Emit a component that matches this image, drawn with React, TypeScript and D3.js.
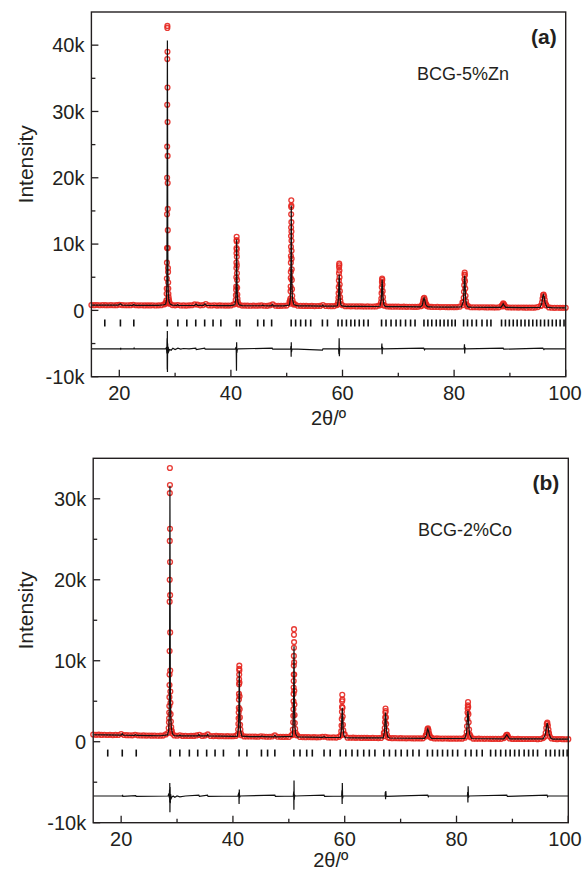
import React from 'react';
import * as d3 from 'd3';

const W = 583;
const H = 873;

// scan step of the observed background points
const scanStart = 15;
const scanStep = 0.5;

// ---------- panel (a) BCG-5%Zn ----------
// observed counts every 0.5 deg from 15 to 100, null where the peak list takes over
const obsBaseA = [
  820, 790, 810, 780, 800, 790, 770, 800, 780, 790,
  850, 800, 780, 770, 790, 850, 780, 760, 770, 750,
  760, 750, 770, 740, 760, 780, 900, null, 1000, 800,
  760, 820, 740, 750, 730, 760, 780, 900, 870, 760,
  800, 950, 760, 740, 780, 730, 750, 740, 720, 730,
  740, 900, null, 850, 730, 720, 710, 700, 720, 700,
  720, 750, 700, 690, 760, 900, 700, 680, 690, 700,
  720, 1300, null, 900, 700, 690, 670, 680, 660, 670,
  650, 660, 680, 820, 660, 650, 640, 650, 800, null,
  780, 630, 620, 610, 630, 600, 610, 600, 590, 600,
  590, 580, 600, 720, null, 700, 580, 570, 560, 570,
  560, 550, 560, 540, 550, 540, 530, 540, 620, null,
  900, 560, 520, 510, 520, 500, 510, 500, 490, 500,
  490, 500, 560, 1200, null, 650, 480, 470, 480, 460,
  470, 460, 450, 460, 450, 440, 460, 700, 800, 460,
  440, 430, 440, 420, 430, 420, 410, 420, 410, 420,
  500, 700, null, 800, 450, 400, 390, 400, 390, 380,
  390,
];

// observed points on the Bragg peaks [2theta, counts]
const obsPeaksA = [
  [28.28, 1000], [28.34, 1100], [28.4, 1200], [28.44, 1500], [28.48, 2500], [28.5, 3300],
  [28.52, 4800], [28.54, 7200], [28.55, 9400], [28.56, 14500], [28.57, 20000], [28.58, 24700],
  [28.59, 31000], [28.6, 37900], [28.61, 42600], [28.62, 42900], [28.63, 39000], [28.64, 33600],
  [28.65, 28400], [28.66, 23300], [28.67, 19200], [28.68, 15300], [28.69, 12100], [28.7, 9400],
  [28.72, 6400], [28.74, 5800], [28.76, 4200], [28.78, 3300], [28.8, 2500], [28.84, 2000],
  [28.9, 1600], [28.96, 1300], [29.02, 1100],
  [40.8, 1000], [40.86, 1600], [40.9, 2300], [40.93, 3100], [40.95, 3600], [40.97, 5000],
  [40.98, 6400], [40.99, 7200], [41.0, 8600], [41.01, 9400], [41.02, 10600], [41.03, 11100],
  [41.04, 10400], [41.05, 9200], [41.06, 8100], [41.07, 6800], [41.08, 5600], [41.1, 4600],
  [41.12, 3400], [41.15, 2400], [41.18, 1800], [41.24, 1300], [41.32, 1000],
  [50.55, 1000], [50.62, 1500], [50.66, 1800], [50.69, 2900], [50.71, 3600], [50.73, 4900],
  [50.74, 5800], [50.75, 7200], [50.76, 8200], [50.77, 9600], [50.78, 11200], [50.79, 12500],
  [50.8, 14500], [50.81, 15600], [50.82, 16600], [50.83, 15800], [50.84, 13300], [50.85, 11900],
  [50.86, 10500], [50.87, 9000], [50.88, 7800], [50.9, 6200], [50.92, 4600], [50.95, 3200],
  [50.99, 2200], [51.05, 1500], [51.14, 1100], [51.25, 900],
  [59.15, 900], [59.22, 1300], [59.27, 1900], [59.3, 2600], [59.33, 3500], [59.35, 4500],
  [59.37, 5600], [59.39, 6500], [59.41, 7050], [59.43, 6800], [59.45, 6000], [59.47, 5000],
  [59.5, 3900], [59.53, 2900], [59.57, 2000], [59.63, 1400], [59.72, 950],
  [66.82, 800], [66.9, 1200], [66.96, 1800], [67.0, 2600], [67.04, 3500], [67.07, 4300],
  [67.1, 4800], [67.13, 4600], [67.16, 3900], [67.2, 2900], [67.25, 2000], [67.32, 1300], [67.42, 850],
  [74.2, 700], [74.35, 1000], [74.45, 1400], [74.55, 1800], [74.65, 1900], [74.75, 1600],
  [74.85, 1200], [74.95, 850], [75.1, 650],
  [81.55, 800], [81.65, 1200], [81.72, 1900], [81.77, 2800], [81.81, 3800], [81.84, 4700],
  [81.87, 5400], [81.9, 5700], [81.93, 5300], [81.96, 4400], [82.0, 3300], [82.05, 2200],
  [82.12, 1400], [82.22, 900], [82.35, 600],
  [88.6, 600], [88.7, 850], [88.8, 1050], [88.9, 950], [89.1, 650],
  [95.6, 700], [95.75, 1200], [95.85, 1800], [95.95, 2300], [96.05, 2400], [96.15, 2100],
  [96.25, 1600], [96.35, 1100], [96.5, 750],
];

// calculated profile [2theta, counts]
const calcA = [
  [15, 800], [17, 790], [19.8, 790], [20.15, 1000], [20.5, 800], [22.4, 770], [22.6, 900], [22.8, 770],
  [25, 760], [27, 750], [28.0, 850], [28.3, 950], [28.45, 1500], [28.52, 4000], [28.56, 14000],
  [28.59, 30000], [28.62, 40700], [28.65, 28000], [28.68, 12000], [28.72, 5000], [28.78, 2500],
  [28.9, 1400], [29.1, 950], [29.5, 800], [30.3, 760], [30.45, 880], [30.6, 750], [32, 740],
  [33.5, 760], [33.75, 950], [34.0, 760], [35.1, 750], [35.35, 980], [35.6, 750], [37, 740],
  [38, 730], [40, 720], [40.7, 850], [40.9, 1800], [40.97, 4500], [41.01, 9000], [41.03, 10700],
  [41.05, 9000], [41.08, 5000], [41.14, 2500], [41.25, 1300], [41.45, 850], [42, 720], [44, 700],
  [45.5, 700], [45.7, 780], [45.9, 700], [47.2, 690], [47.4, 900], [47.6, 690], [49.5, 680],
  [50.5, 800], [50.68, 2000], [50.75, 6500], [50.79, 12500], [50.82, 15800], [50.85, 12000],
  [50.89, 6500], [50.95, 3200], [51.05, 1600], [51.3, 850], [52, 690], [54, 670], [56.3, 650],
  [56.45, 800], [56.6, 650], [58.5, 640], [59.1, 700], [59.28, 1800], [59.36, 4200], [59.41, 5400],
  [59.46, 4200], [59.54, 2000], [59.7, 900], [59.9, 680], [60.5, 620], [63, 600], [66.0, 590],
  [66.7, 620], [66.95, 1600], [67.04, 3400], [67.1, 4600], [67.16, 3700], [67.25, 1800],
  [67.45, 800], [67.7, 600], [68, 580], [71, 560], [74.0, 540], [74.3, 800], [74.5, 1600],
  [74.62, 1850], [74.75, 1500], [74.95, 800], [75.3, 540], [76, 520], [79, 500], [81.3, 520],
  [81.65, 1300], [81.78, 3200], [81.86, 5000], [81.9, 5200], [81.95, 4500], [82.05, 2000],
  [82.2, 900], [82.5, 500], [83, 480], [86, 460], [88.4, 460], [88.65, 750], [88.8, 1000],
  [88.95, 800], [89.25, 460], [89.5, 450], [92, 430], [95.4, 440], [95.7, 1000], [95.9, 2100],
  [96.0, 2350], [96.12, 2100], [96.3, 1200], [96.6, 500], [97.5, 410], [100, 390],
];

// difference curve (obs - calc), drawn with its offset [2theta, counts]
const diffA = [
  [15, -5800], [20.2, -5800], [20.25, -5650], [20.3, -5850], [20.4, -5800], [22.6, -5800],
  [22.65, -5700], [22.7, -5800], [28.3, -5800], [28.45, -5600], [28.52, -6500], [28.56, -4200],
  [28.59, -8900], [28.61, -3100], [28.63, -9300], [28.66, -5000], [28.7, -6300], [28.76, -5500],
  [28.85, -6200], [29.0, -5900], [29.3, -6000], [29.6, -5700], [30.0, -5900], [30.5, -5700],
  [31.0, -5850], [31.5, -5750], [32.5, -5800], [33.7, -5700], [33.8, -5900], [35.3, -5700],
  [35.4, -5850], [40.8, -5800], [40.95, -5500], [41.0, -9100], [41.03, -4800], [41.06, -6400],
  [41.15, -5900], [41.3, -5800], [47.4, -5700], [47.5, -5850], [50.7, -5800], [50.78, -5400],
  [50.8, -7000], [50.82, -4800], [50.85, -6300], [50.95, -5800], [56.4, -6000], [56.5, -5800],
  [59.3, -5800], [59.36, -6600], [59.4, -4200], [59.44, -6900], [59.5, -5700], [59.6, -5800],
  [67.0, -5800], [67.06, -5000], [67.1, -6600], [67.15, -5500], [67.25, -5800], [74.55, -5700],
  [74.7, -5950], [74.8, -5800], [81.8, -5800], [81.86, -5100], [81.9, -6500], [81.95, -5600],
  [82.05, -5800], [88.8, -5700], [88.9, -5850], [95.9, -5700], [96.1, -5900], [96.2, -5800],
  [100, -5800],
];

// reflection positions (2theta)
const braggA = [
  17.4, 20.2, 22.6, 28.6, 30.5, 32.1, 33.7, 35.3, 36.8, 38.2, 41.0, 41.6, 44.8, 45.9, 47.3,
  50.8, 51.6, 52.5, 53.4, 54.3, 56.4, 57.3, 59.2, 59.9, 60.7, 61.5, 62.2, 63.0, 63.8, 64.6,
  67.0, 67.8, 68.7, 69.6, 70.4, 71.3, 72.2, 73.0, 74.6, 75.3, 76.0, 76.8, 77.5, 78.2, 78.9,
  79.6, 80.2, 81.7, 82.4, 83.2, 84.0, 85.0, 85.9, 86.6, 88.5, 89.2, 89.9, 90.6, 91.3, 92.0,
  92.7, 93.4, 94.1, 94.8, 95.5, 96.2, 96.9, 97.6, 98.3, 99.0, 99.7,
];

// ---------- panel (b) BCG-2%Co ----------
const obsBaseB = [
  880, 850, 870, 840, 860, 830, 850, 820, 840, 830,
  950, 830, 810, 800, 790, 860, 790, 770, 780, 760,
  770, 750, 760, 740, 750, 760, 900, null, 1400, 780,
  740, 800, 720, 730, 710, 730, 720, 780, 850, 720,
  760, 900, 710, 700, 720, 690, 700, 680, 690, 670,
  680, 720, null, 800, 660, 650, 640, 650, 630, 620,
  680, 640, 620, 610, 640, 780, 610, 600, 590, 600,
  590, 800, null, 800, 580, 570, 560, 570, 550, 560,
  540, 550, 620, 620, 530, 520, 530, 510, 600, null,
  900, 500, 490, 500, 480, 490, 470, 480, 470, 460,
  470, 460, 450, 470, 1100, null, 460, 440, 450, 430,
  440, 430, 420, 430, 420, 410, 420, 410, 420, 800,
  null, 500, 400, 410, 400, 390, 400, 390, 380, 390,
  380, 390, 380, 500, null, 700, 380, 370, 380, 370,
  360, 370, 360, 350, 360, 350, 360, 450, 850, 400,
  350, 340, 350, 340, 330, 340, 330, 340, 330, 320,
  340, 450, null, 1100, 400, 330, 320, 330, 320, 310,
  320,
];

const obsPeaksB = [
  [28.42, 1100], [28.5, 1700], [28.55, 2400], [28.58, 2900], [28.6, 3600], [28.62, 4400],
  [28.64, 5500], [28.65, 7000], [28.66, 8300], [28.67, 11200], [28.68, 17300], [28.69, 20000],
  [28.7, 24800], [28.71, 30700], [28.72, 33800], [28.73, 31700], [28.74, 26300], [28.75, 22200],
  [28.76, 18100], [28.77, 13500], [28.78, 8800], [28.8, 6200], [28.82, 4800], [28.85, 3400],
  [28.9, 2500], [28.96, 1800], [29.05, 1300], [29.15, 1000],
  [40.85, 900], [40.93, 1500], [40.98, 2200], [41.01, 2900], [41.03, 3600], [41.05, 4200],
  [41.07, 5200], [41.08, 5900], [41.1, 7100], [41.11, 7700], [41.12, 8300], [41.13, 9000],
  [41.14, 9400], [41.15, 8800], [41.17, 7300], [41.19, 5600], [41.21, 4000], [41.24, 3000],
  [41.28, 2100], [41.34, 1500], [41.45, 1000],
  [50.65, 900], [50.72, 1500], [50.77, 2400], [50.8, 3200], [50.82, 4000], [50.84, 5000],
  [50.85, 5900], [50.86, 6700], [50.87, 7500], [50.88, 8300], [50.89, 9400], [50.9, 10600],
  [50.91, 11600], [50.92, 13200], [50.93, 13900], [50.94, 12300], [50.95, 9800], [50.96, 8300],
  [50.98, 6300], [51.0, 4600], [51.03, 3300], [51.07, 2300], [51.13, 1600], [51.22, 1100], [51.35, 800],
  [59.3, 800], [59.38, 1300], [59.43, 2000], [59.47, 2800], [59.5, 3700], [59.52, 4300],
  [59.54, 5000], [59.56, 5800], [59.58, 5200], [59.61, 4200], [59.64, 3100], [59.68, 2100],
  [59.74, 1400], [59.84, 900],
  [67.02, 700], [67.1, 1100], [67.16, 1700], [67.2, 2400], [67.24, 3000], [67.27, 3600],
  [67.3, 4100], [67.33, 3800], [67.37, 3000], [67.41, 2200], [67.47, 1400], [67.56, 850], [67.7, 550],
  [74.5, 650], [74.6, 850], [74.7, 1200], [74.8, 1550], [74.9, 1650], [75.0, 1400], [75.1, 1000],
  [75.2, 750], [75.35, 550],
  [81.72, 700], [81.82, 1200], [81.88, 1900], [81.93, 2800], [81.97, 3600], [82.0, 4100],
  [82.03, 4500], [82.06, 4900], [82.09, 4300], [82.13, 3400], [82.18, 2400], [82.25, 1500],
  [82.35, 900], [82.5, 550],
  [88.8, 650], [88.9, 800], [89.1, 850], [89.2, 650],
  [95.8, 650], [95.95, 1100], [96.05, 1700], [96.15, 2200], [96.25, 2350], [96.35, 2000],
  [96.45, 1500], [96.55, 1000], [96.7, 650],
];

const calcB = [
  [15, 860], [17, 840], [20.0, 820], [20.2, 980], [20.4, 810], [22.4, 790], [22.6, 860], [22.8, 780],
  [25, 760], [27, 740], [28.3, 850], [28.5, 1400], [28.6, 3000], [28.66, 8000], [28.7, 22000],
  [28.73, 31600], [28.76, 20000], [28.8, 7000], [28.87, 3000], [29.0, 1600], [29.2, 950],
  [29.5, 760], [30.3, 730], [30.5, 800], [30.7, 730], [32, 715], [33.7, 720], [33.9, 880],
  [34.1, 720], [35.3, 710], [35.45, 900], [35.6, 710], [38, 690], [40, 670], [40.8, 700],
  [41.0, 1800], [41.08, 5000], [41.13, 8700], [41.16, 7500], [41.22, 3500], [41.32, 1500],
  [41.6, 700], [43, 640], [45, 620], [45.2, 700], [45.4, 620], [47.3, 610], [47.5, 780],
  [47.7, 610], [50.6, 650], [50.78, 2200], [50.86, 6000], [50.91, 11000], [50.93, 11800],
  [50.96, 9000], [51.0, 4500], [51.08, 2000], [51.2, 1000], [51.5, 600], [54, 560], [56.1, 540],
  [56.3, 650], [56.5, 540], [59.2, 520], [59.4, 1400], [59.5, 3200], [59.56, 4200], [59.62, 3400],
  [59.7, 1600], [59.85, 800], [60.1, 500], [63, 480], [66.9, 470], [67.12, 1300], [67.22, 2700],
  [67.3, 3600], [67.37, 2900], [67.47, 1400], [67.7, 600], [68, 460], [71, 430], [74.3, 420],
  [74.6, 750], [74.78, 1400], [74.87, 1600], [74.98, 1350], [75.2, 700], [75.5, 420], [78, 400],
  [81.5, 400], [81.8, 1100], [81.94, 2800], [82.03, 3800], [82.1, 3500], [82.2, 1900],
  [82.35, 900], [82.7, 400], [86, 370], [88.5, 360], [88.8, 650], [89.0, 850], [89.2, 650],
  [89.5, 360], [93, 340], [95.5, 340], [95.9, 900], [96.1, 1900], [96.22, 2300], [96.35, 1950],
  [96.55, 1000], [96.85, 450], [97.2, 330], [100, 320],
];

const diffB = [
  [15, -6700], [20.2, -6700], [20.25, -6550], [20.3, -6750], [22.6, -6650], [22.7, -6750],
  [28.4, -6700], [28.55, -6400], [28.62, -6900], [28.66, -5900], [28.68, -7500], [28.7, -5100],
  [28.73, -8700], [28.76, -5600], [28.8, -7600], [28.86, -6500], [28.95, -7000], [29.1, -6800],
  [29.3, -6700], [29.6, -6850], [30.0, -6700], [30.5, -6800], [31.5, -6700], [33.9, -6600],
  [34.0, -6750], [35.45, -6600], [35.55, -6750], [40.9, -6700], [41.06, -6300], [41.1, -7700],
  [41.14, -5900], [41.18, -6900], [41.3, -6700], [47.5, -6600], [47.6, -6750], [50.8, -6700],
  [50.88, -6200], [50.91, -8400], [50.93, -4800], [50.96, -7200], [51.05, -6600], [51.15, -6700],
  [56.3, -6600], [56.4, -6750], [59.45, -6700], [59.5, -6000], [59.54, -7700], [59.57, -5100],
  [59.62, -7000], [59.7, -6700], [67.22, -6700], [67.27, -6200], [67.31, -7100], [67.35, -6100],
  [67.42, -6750], [74.85, -6600], [74.95, -6800], [75.05, -6700], [81.95, -6700], [82.0, -6200],
  [82.04, -7500], [82.08, -5500], [82.14, -6900], [82.25, -6700], [89.0, -6600], [89.1, -6750],
  [96.2, -6600], [96.3, -6800], [96.4, -6700], [100, -6700],
];

const braggB = [
  17.6, 20.2, 22.7, 28.8, 30.5, 32.2, 33.7, 35.3, 36.8, 38.3, 41.1, 42.5, 45.1, 46.2, 47.5,
  50.9, 52.0, 53.2, 54.2, 56.3, 57.4, 59.2, 60.2, 61.3, 62.3, 63.4, 64.4, 65.4, 67.0, 68.0,
  69.1, 70.1, 71.2, 72.2, 73.3, 74.8, 75.7, 76.6, 77.5, 78.4, 79.3, 80.2, 81.6, 82.6, 83.6,
  84.6, 86.1, 87.0, 87.9, 88.8, 89.6, 90.4, 91.2, 92.1, 92.9, 93.7, 94.5, 96.0, 96.8, 97.6,
  98.4, 99.1, 99.8,
];

// axis ticks
const xTicks = [20, 40, 60, 80, 100];
const xMinor = [30, 50, 70, 90];
const yTicksA = [-10000, 0, 10000, 20000, 30000, 40000];
const yMinorA = [-5000, 5000, 15000, 25000, 35000];
const yTicksB = [-10000, 0, 10000, 20000, 30000];
const yMinorB = [-5000, 5000, 15000, 25000];

const FONT = '"Liberation Sans", Arial, Helvetica, sans-serif';
const INK = '#231f20';
const RED = '#e6261f';

const fmtK = (v: number) => (v === 0 ? '0' : `${v / 1000}k`);

type Pt = [number, number];

function Panel(props: any) {
  const { left, right, top, bottom, yMax, obsBase, obsPeaks, calc, diff, bragg, braggLevel,
    yTicks, yMinor, tag, sample, tagDy, sampleDy, sampleX } = props;

  const x = d3.scaleLinear().domain([15, 100]).range([left, right]);
  const y = d3.scaleLinear().domain([-10000, yMax]).range([bottom, top]);

  const basePts: Pt[] = [];
  obsBase.forEach((v: number | null, i: number) => {
    if (v != null) basePts.push([scanStart + i * scanStep, v]);
  });
  const obs: Pt[] = basePts.concat(obsPeaks as Pt[]);

  const line = d3.line<Pt>().x(d => x(d[0])).y(d => y(d[1]));
  const by = y(braggLevel);

  return (
    <g>
      {obs.map((d, i) => (
        <circle key={i} cx={x(d[0])} cy={y(d[1])} r={2.4} fill="none" stroke={RED} strokeWidth={1.35} opacity={0.9} />
      ))}
      <path d={line(calc) || ''} fill="none" stroke="#111" strokeWidth={1.2} />
      <path d={line(diff) || ''} fill="none" stroke="#111" strokeWidth={1.2} />
      {bragg.map((b: number, i: number) => (
        <line key={i} x1={x(b)} x2={x(b)} y1={by - 3.5} y2={by + 3.5} stroke="#111" strokeWidth={1.6} />
      ))}

      {/* frame */}
      <rect x={left} y={top} width={right - left} height={bottom - top} fill="none" stroke={INK} strokeWidth={1.4} />

      {/* y axis */}
      {yTicks.map((t: number) => (
        <g key={t}>
          <line x1={left} x2={left + 7} y1={y(t)} y2={y(t)} stroke={INK} strokeWidth={1.3} />
          <text x={left - 7} y={y(t)} dy="0.36em" textAnchor="end" fontSize={20} fill={INK}>{fmtK(t)}</text>
        </g>
      ))}
      {yMinor.map((t: number) => (
        <line key={t} x1={left} x2={left + 4} y1={y(t)} y2={y(t)} stroke={INK} strokeWidth={1.3} />
      ))}

      {/* x axis */}
      {xTicks.map(t => (
        <g key={t}>
          <line x1={x(t)} x2={x(t)} y1={bottom} y2={bottom - 7} stroke={INK} strokeWidth={1.3} />
          <text x={Math.min(x(t), W - 18)} y={bottom + 23} textAnchor="middle" fontSize={20} fill={INK}>{t}</text>
        </g>
      ))}
      {xMinor.map(t => (
        <line key={t} x1={x(t)} x2={x(t)} y1={bottom} y2={bottom - 4} stroke={INK} strokeWidth={1.3} />
      ))}

      <text x={(left + right) / 2} y={Math.min(bottom + 48, H - 6)} textAnchor="middle" fontSize={20} fill={INK}>2θ/º</text>
      <text transform={`translate(33,${(top + bottom) / 2 - 30}) rotate(-90)`} textAnchor="middle" fontSize={21} fill={INK}>Intensity</text>

      <text x={right - 9} y={top + tagDy} textAnchor="end" fontSize={21} fontWeight="bold" fill={INK}>{tag}</text>
      <text x={sampleX} y={top + sampleDy} textAnchor="middle" fontSize={18} fill={INK}>{sample}</text>
    </g>
  );
}

export default function App() {
  return (
    <svg width={W} height={H} style={{ position: 'absolute', left: 0, top: 0, background: '#fff' }} fontFamily={FONT}>
      <Panel left={91.4} right={565.7} top={12} bottom={376.7} yMax={45000}
        obsBase={obsBaseA} obsPeaks={obsPeaksA} calc={calcA} diff={diffA} bragg={braggA} braggLevel={-1900}
        yTicks={yTicksA} yMinor={yMinorA} tag="(a)" sample="BCG-5%Zn" tagDy={32} sampleDy={68} sampleX={463} />
      <Panel left={93.2} right={568.3} top={458.3} bottom={822.7} yMax={35000}
        obsBase={obsBaseB} obsPeaks={obsPeaksB} calc={calcB} diff={diffB} bragg={braggB} braggLevel={-1400}
        yTicks={yTicksB} yMinor={yMinorB} tag="(b)" sample="BCG-2%Co" tagDy={32} sampleDy={78} sampleX={465} />
    </svg>
  );
}
